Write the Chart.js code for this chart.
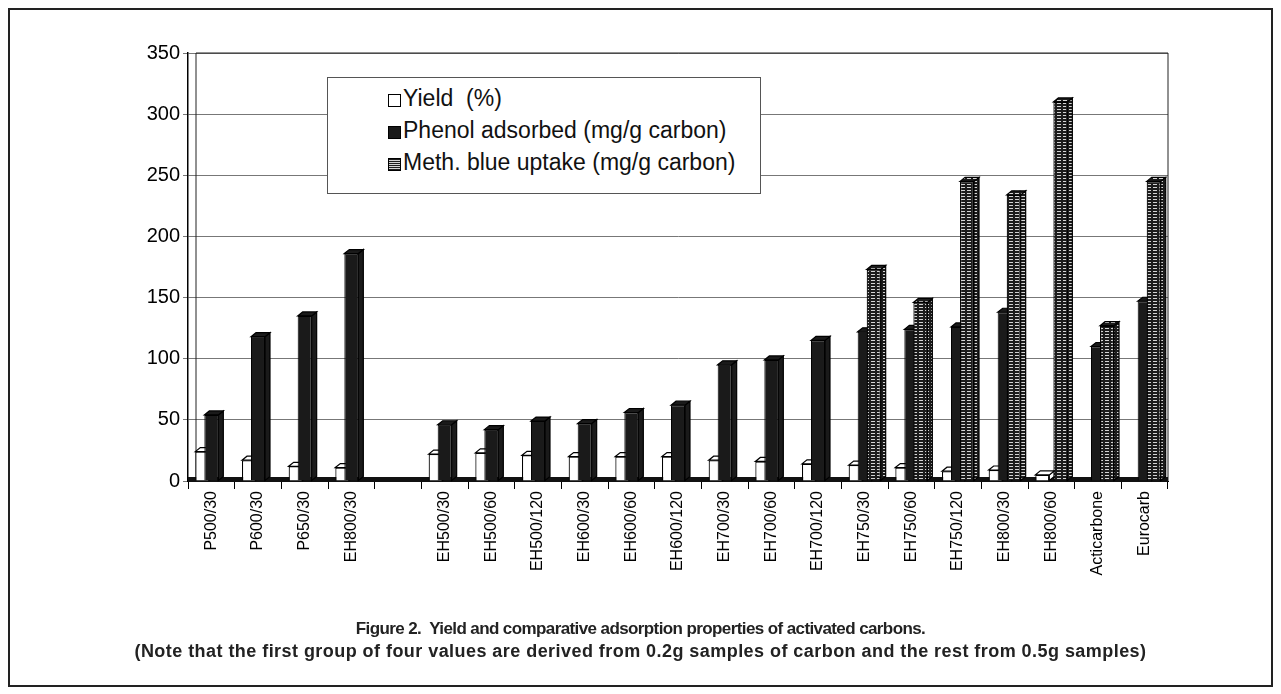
<!DOCTYPE html>
<html>
<head>
<meta charset="utf-8">
<script src="https://cdn.jsdelivr.net/npm/chart.js@4"></script>
<style>
  body { margin:0; background:#fff; font-family: Arial, "Liberation Sans", sans-serif; }
  #page { position:relative; width:1281px; height:694px; overflow:hidden; }
  #frame { position:absolute; left:8px; top:8px; width:1261px; height:675px; border:2px solid #222; }
  #chart { position:absolute; left:0; top:0; }
  #legendBox { position:absolute; left:327px; top:77px; width:432px; height:115px; background:#fff; border:1px solid #555; }
  .legendItem { position:absolute; left:60px; font-size:23px; color:#111; white-space:pre; line-height:24px; }
  .legendMarker { display:inline-block; width:11px; height:11px; border:1px solid #000; margin-right:2px; vertical-align:-1px; }
  .capLine { position:absolute; left:0; width:1281px; text-align:center; font-weight:bold; color:#222; white-space:pre; }
</style>
</head>
<body>
<div id="page">
  <div id="frame"></div>
  <canvas id="chart" width="1281" height="694"></canvas>
  <div id="legendBox"></div>
  <div id="cap1" class="capLine" style="top:619px; font-size:17px; letter-spacing:-0.6px;"></div>
  <div id="cap2" class="capLine" style="top:641px; font-size:18px; letter-spacing:0.45px;"></div>
</div>
<script>
// categories (empty slot separates the 0.2g group from the 0.5g group)
const labels = ['P500/30','P600/30','P650/30','EH800/30','',
                'EH500/30','EH500/60','EH500/120','EH600/30','EH600/60','EH600/120',
                'EH700/30','EH700/60','EH700/120','EH750/30','EH750/60','EH750/120',
                'EH800/30','EH800/60','Acticarbone','Eurocarb'];

const yieldPct  = [24, 17, 12, 11, null, 22, 23, 21, 20, 20, 20, 17, 16, 14, 13, 11, 8, 9, 5, null, null];
const phenol    = [54, 118, 135, 186, null, 46, 42, 49, 47, 56, 62, 95, 99, 115, 122, 124, 126, 138, null, 110, 147];
const methBlue  = [null, null, null, null, null, null, null, null, null, null, null, null, null, null, 173, 146, 245, 234, 310, 127, 245];

const seriesNames = ['Yield  (%)', 'Phenol adsorbed (mg/g carbon)', 'Meth. blue uptake (mg/g carbon)'];
const yTicks = [0, 50, 100, 150, 200, 250, 300, 350];

const captionLines = [
  'Figure 2.  Yield and comparative adsorption properties of activated carbons.',
  '(Note that the first group of four values are derived from 0.2g samples of carbon and the rest from 0.5g samples)'
];

function makeHatch(){
  const c = document.createElement('canvas');
  c.width = 6; c.height = 3;
  const g = c.getContext('2d');
  g.fillStyle = '#1c1c1c'; g.fillRect(0,0,6,3);
  g.fillStyle = '#d4d4d4'; g.fillRect(1,1,4,1);
  return g.createPattern(c, 'repeat');
}
const hatch = makeHatch();

const faceColours = ['#ffffff', '#1a1a1a', hatch];

// legend (html, sits on top of the plot like the original)
let html = "";
html += "<div class='legendItem' style='top:8px'><span class='legendMarker' style='background:#fff'></span>" + seriesNames[0] + "</div>";
html += "<div class='legendItem' style='top:40px'><span class='legendMarker' style='background:#1a1a1a'></span>" + seriesNames[1] + "</div>";
html += "<div class='legendItem' style='top:72px'><span class='legendMarker' style='background:repeating-linear-gradient(to bottom,#1c1c1c 0 1px,#d4d4d4 1px 2px)'></span>" + seriesNames[2] + "</div>";
document.getElementById("legendBox").innerHTML = html;
document.getElementById("cap1").textContent = captionLines[0];
document.getElementById("cap2").textContent = captionLines[1];

// fake 3D: top cap and side face for every bar, plus floor and walls.
// bars are drawn here in series order so the later series overlap the earlier ones
const DX = 5, DY = 4;
const bars3d = {
  id: 'bars3d',
  beforeDatasetsDraw(chart){
    const {ctx, chartArea:a} = chart;
    ctx.save();
    ctx.strokeStyle = '#222';
    ctx.lineWidth = 1;
    ctx.beginPath();
    ctx.moveTo(a.left + 8, a.bottom - 3); ctx.lineTo(a.left + 8, a.top);
    ctx.lineTo(a.right, a.top); ctx.lineTo(a.right, a.bottom);
    ctx.stroke();
    ctx.fillStyle = '#111';
    ctx.fillRect(a.left, a.bottom - 4, a.right - a.left, 5);
    ctx.restore();
  },
  beforeDatasetDraw(){
    return false;
  },
  afterDatasetsDraw(chart){
    const ctx = chart.ctx;
    for (let d = 0; d < chart.data.datasets.length; d++){
      const meta = chart.getDatasetMeta(d);
      meta.controller.draw();
      const fill = faceColours[d];
      ctx.save();
      ctx.lineWidth = 1.2;
      ctx.strokeStyle = '#000';
      meta.data.forEach((el, i) => {
        const v = chart.data.datasets[d].data[i];
        if (v === null || v === undefined) return;
        const {x, y, base, width} = el.getProps(['x','y','base','width'], true);
        const l = x - width/2, r = x + width/2;
        ctx.beginPath();
        ctx.moveTo(r, y); ctx.lineTo(r + DX, y - DY); ctx.lineTo(r + DX, base - DY); ctx.lineTo(r, base);
        ctx.closePath();
        ctx.fillStyle = fill; ctx.fill(); ctx.stroke();
        ctx.beginPath();
        ctx.moveTo(l, y); ctx.lineTo(l + DX, y - DY); ctx.lineTo(r + DX, y - DY); ctx.lineTo(r, y);
        ctx.closePath();
        ctx.fillStyle = fill; ctx.fill(); ctx.stroke();
      });
      ctx.restore();
    }
  }
};

const font = 'Arial, "Liberation Sans", sans-serif';

new Chart(document.getElementById('chart'), {
  type: 'bar',
  data: {
    labels: labels,
    datasets: [
      { label: seriesNames[0], data: yieldPct, backgroundColor: faceColours[0], borderColor: '#000', borderWidth: 1.2 },
      { label: seriesNames[1], data: phenol,   backgroundColor: faceColours[1], borderColor: '#000', borderWidth: 1 },
      { label: seriesNames[2], data: methBlue, backgroundColor: faceColours[2], borderColor: '#000', borderWidth: 1.2 }
    ]
  },
  options: {
    responsive: false,
    animation: false,
    categoryPercentage: 0.58,
    barPercentage: 1.55,
    layout: { padding: { left: 118, right: 113, top: 53, bottom: 63 } },
    plugins: { legend: { display: false }, tooltip: { enabled: false } },
    scales: {
      x: {
        offset: true,
        grid: { drawOnChartArea: false, drawTicks: true, tickLength: 8, color: '#000', offset: true },
        border: { display: true, color: '#000', width: 1 },
        ticks: { autoSkip: false, minRotation: 90, maxRotation: 90, color: '#000', padding: 2, font: { family: font, size: 16 } },
        afterFit: (s) => { s.height = 150; }
      },
      y: {
        min: 0, max: 350,
        afterBuildTicks: (s) => { s.ticks = yTicks.map(v => ({value: v})); },
        ticks: { color: '#000', padding: 3, font: { family: font, size: 20 } },
        grid: { color: '#777', lineWidth: 1, tickLength: 5, drawTicks: true },
        border: { color: '#000', width: 1.5 },
        afterFit: (s) => { s.width = 70; }
      }
    }
  },
  plugins: [bars3d]
});
</script>
</body>
</html>
